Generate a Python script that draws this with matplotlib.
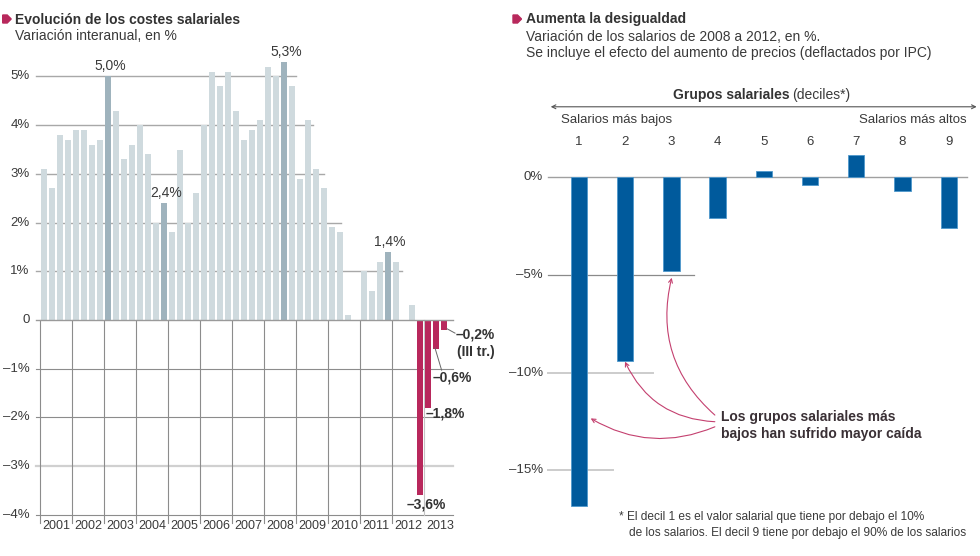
import numpy as np
import matplotlib
matplotlib.use("Agg")
import matplotlib.pyplot as plt
from matplotlib.patches import Polygon

plt.rcParams["font.family"] = ["Liberation Sans", "DejaVu Sans"]

# quarterly wage cost change, 2001 Q1 .. 2013 Q3
years = [str(y) for y in range(2001, 2014)]
costes = [3.1, 2.7, 3.8, 3.7,
          3.9, 3.9, 3.6, 3.7,
          5.0, 4.3, 3.3, 3.6,
          4.0, 3.4, 2.0, 2.4,
          1.8, 3.5, 2.0, 2.6,
          4.0, 5.1, 4.8, 5.1,
          4.3, 3.7, 3.9, 4.1,
          5.2, 5.0, 5.3, 4.8,
          2.9, 4.1, 3.1, 2.7,
          1.9, 1.8, 0.1, 0.0,
          1.0, 0.6, 1.2, 1.4,
          1.2, 0.0, 0.3, -3.6,
          -1.8, -0.6, -0.2]
destacados = [8, 15, 30, 43]
etiquetas_pos = {8: "5,0%", 15: "2,4%", 30: "5,3%", 43: "1,4%"}

# wage change 2008-2012 by decile
deciles = [1, 2, 3, 4, 5, 6, 7, 8, 9]
variacion = [-16.8, -9.4, -4.8, -2.1, 0.3, -0.4, 1.1, -0.7, -2.6]

W, H = 980, 556
TXT = "#3a3a3a"
ROJO = "#b8285c"


def fx(x):
    return x / W


def fy(y):
    return 1 - y / H


fig = plt.figure(figsize=(W / 100, H / 100), dpi=100)
fig.patch.set_facecolor("white")

# ---------------- left chart ----------------
ax = fig.add_axes([fx(32), fy(544), fx(424), (544 - 37.5) / H])
ax.set_xlim(-1, 52)
ax.set_ylim(-4.6, 5.8)
ax.axis("off")

n = len(costes)
pos = np.arange(n) + 0.5
cols = []
for i, v in enumerate(costes):
    if v < 0:
        cols.append(ROJO)
    elif i in destacados:
        cols.append("#9fb3bd")
    else:
        cols.append("#cfdade")

# horizontal grid (upper lines stop near the last tall bar)
grid_end = {1: 45.25, 2: 37.6, 3: 35.5, 4: 34.1, 5: 32.0}
for lvl, xe in grid_end.items():
    ax.plot([-0.5, xe], [lvl, lvl], color="#a8a8a8", lw=1.0, zorder=1)
for lvl in [-1, -2, -4]:
    ax.plot([-0.5, 51.6], [lvl, lvl], color="#8c8c8c", lw=0.8, zorder=1)
ax.plot([-0.5, 51.6], [-3, -3], color="#d0d0d0", lw=1.6, zorder=1)
for k in range(12):
    ax.plot([4 * k, 4 * k], [-4.17, 0], color="#8c8c8c", lw=0.8, zorder=1)
ax.plot([48, 48], [-4.0, 0], color="#c4c4c4", lw=0.8, zorder=1)

ax.bar(pos, costes, width=0.75, color=cols, zorder=2, linewidth=0)
ax.plot([-0.5, 51.6], [0, 0], color="#9a9a9a", lw=1.0, zorder=3)

for lvl in range(-4, 6):
    if lvl == 0:
        lab = "0"
    elif lvl < 0:
        lab = "\u2013%d%%" % abs(lvl)
    else:
        lab = "%d%%" % lvl
    ax.text(-1.3, lvl, lab, ha="right", va="center", fontsize=9.5, color=TXT)

for k, yr in enumerate(years):
    ax.text(4 * k + 2, -4.24, yr, ha="center", va="center", fontsize=9, color=TXT)

for i, lab in etiquetas_pos.items():
    ax.text(pos[i] + 0.25, costes[i] + 0.21, lab, ha="center", va="center",
            fontsize=10, color=TXT)

# negative labels
bold = dict(fontsize=10, fontweight="bold", color="#333333")
ax.plot([50.875, 51.875], [-0.18, -0.27], color="#666666", lw=0.7)
ax.text(52.0, -0.29, "\u20130,2%", ha="left", va="center", **bold)
ax.text(52.1, -0.66, "(III tr.)", ha="left", va="center", **bold)
ax.plot([49.375, 50.2], [-0.575, -1.03], color="#666666", lw=0.7)
ax.text(49.1, -1.18, "\u20130,6%", ha="left", va="center", **bold)
ax.text(48.25, -1.92, "\u20131,8%", ha="left", va="center", **bold)
ax.text(48.3, -3.78, "\u20133,6%", ha="center", va="center", **bold)

# ---------------- right chart ----------------
bx = fig.add_axes([fx(532.8), fy(538.9), fx(445.9), (538.9 - 88.98) / H])
bx.set_xlim(0, 9.65)
bx.set_ylim(-18.5, 4.5)
bx.axis("off")

bx.plot([0.33, 9.39], [0, 0], color="#a0a0a0", lw=1.0, zorder=1)
bx.plot([0.33, 3.49], [-5, -5], color="#8a8a8a", lw=0.9, zorder=1)
bx.plot([0.33, 2.60], [-10, -10], color="#cccccc", lw=1.4, zorder=1)
bx.plot([0.33, 1.73], [-15, -15], color="#cccccc", lw=1.4, zorder=1)

bx.bar(deciles, variacion, width=0.353, color="#005a9c", edgecolor="#4f98cc",
       linewidth=0.6, zorder=2)

for lvl in [0, -5, -10, -15]:
    lab = "0%" if lvl == 0 else "\u2013%d%%" % abs(lvl)
    bx.text(0.22, lvl, lab, ha="right", va="center", fontsize=9.5, color=TXT)

for d in deciles:
    bx.text(d, 1.8, str(d), ha="center", va="center", fontsize=9.5, color=TXT)

bx.annotate("", xy=(9.606, 3.59), xytext=(0.388, 3.59),
            arrowprops=dict(arrowstyle="<->", color="#555555", lw=0.8,
                            mutation_scale=7, shrinkA=0, shrinkB=0))
bx.text(5.566, 4.19, "Grupos salariales", ha="right", va="center",
        fontsize=10, fontweight="bold", color="#333333")
bx.text(5.61, 4.19, "(deciles*)", ha="left", va="center", fontsize=10, color=TXT)
bx.text(0.61, 2.91, "Salarios más bajos", ha="left", va="center", fontsize=9.5, color=TXT)
bx.text(9.39, 2.91, "Salarios más altos", ha="right", va="center", fontsize=9.5, color=TXT)

bx.text(4.07, -12.7, "Los grupos salariales más\nbajos han sufrido mayor caída",
        ha="left", va="center", fontsize=10, fontweight="bold", color="#3a3035",
        linespacing=1.2)

arr = dict(arrowstyle="->", color="#c4406f", lw=0.8, mutation_scale=7,
           shrinkA=0, shrinkB=0)
bx.annotate("", xy=(3.006, -5.15), xytext=(3.94, -12.17),
            arrowprops=dict(connectionstyle="arc3,rad=-0.3", **arr))
bx.annotate("", xy=(1.995, -9.44), xytext=(3.94, -12.51),
            arrowprops=dict(connectionstyle="arc3,rad=-0.3", **arr))
bx.annotate("", xy=(1.253, -12.34), xytext=(3.94, -12.77),
            arrowprops=dict(connectionstyle="arc3,rad=-0.25", **arr))

# ---------------- titles and notes ----------------
for bxp, by in [(2.7, 15), (513, 15)]:
    pts = [(bxp, by), (bxp + 4.5, by), (bxp + 8.5, by + 4), (bxp + 4.5, by + 8), (bxp, by + 8)]
    fig.patches.append(Polygon([(fx(a), fy(b)) for a, b in pts], closed=True,
                               transform=fig.transFigure, color=ROJO))

fig.text(fx(15), fy(19.5), "Evolución de los costes salariales", ha="left", va="center",
         fontsize=10, fontweight="bold", color="#333333")
fig.text(fx(15), fy(36.5), "Variación interanual, en %", ha="left", va="center",
         fontsize=10, color=TXT)
fig.text(fx(526), fy(19.5), "Aumenta la desigualdad", ha="left", va="center",
         fontsize=10, fontweight="bold", color="#333333")
fig.text(fx(526), fy(36.7), "Variación de los salarios de 2008 a 2012, en %.", ha="left",
         va="center", fontsize=10, color=TXT)
fig.text(fx(526), fy(52.7), "Se incluye el efecto del aumento de precios (deflactados por IPC)",
         ha="left", va="center", fontsize=10, color=TXT)

fig.text(fx(619), fy(516.7), "* El decil 1 es el valor salarial que tiene por debajo el 10%",
         ha="left", va="center", fontsize=8.6, color=TXT)
fig.text(fx(629.3), fy(533.3), "de los salarios. El decil 9 tiene por debajo el 90% de los salarios",
         ha="left", va="center", fontsize=8.6, color=TXT)

fig.savefig("out.png", dpi=100, facecolor="white")
